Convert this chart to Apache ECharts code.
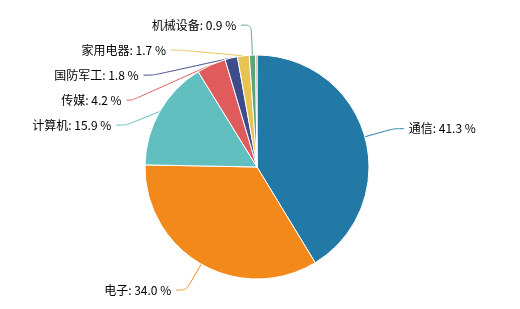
<!DOCTYPE html>
<html>
<head>
<meta charset="utf-8">
<script src="https://cdn.jsdelivr.net/npm/echarts@6/dist/echarts.min.js"></script>
<style>
  html, body { margin: 0; padding: 0; background: #fff; }
  #chart { width: 520px; height: 309px; }
</style>
</head>
<body>
<div id="chart"></div>
<script>
// 行业分布
const categories = ['通信', '电子', '计算机', '传媒', '国防军工', '家用电器', '机械设备', '其他']
const values = [41.3, 34.0, 15.9, 4.2, 1.8, 1.7, 0.9, 0.2]
const colors = ['#2279a5', '#f4891b', '#62bfbf', '#e05c5c', '#3e4d8a', '#e6c352', '#5fa37a', '#a07a68']

const chart = echarts.init(document.getElementById('chart'))

const data = categories.map((name, i) => {
  const item = { name: name, value: values[i] }
  if (name === '其他') {
    item.label = { show: false }
    item.labelLine = { show: false }
  }
  return item
})

chart.setOption({
  color: colors,
  series: [{
    type: 'pie',
    center: [257, 167],
    radius: [0, 112],
    startAngle: 90,
    clockwise: true,
    avoidLabelOverlap: true,
    itemStyle: { borderColor: '#fff', borderWidth: 1 },
    label: {
      color: '#000',
      fontSize: 12,
      lineHeight: 23,
      fontFamily: 'Noto Sans CJK SC',
      formatter: p => p.name + ': ' + p.value.toFixed(1) + ' %'
    },
    labelLine: { length: 30, length2: 10, smooth: 0.3 },
    data: data
  }]
})
</script>
</body>
</html>
